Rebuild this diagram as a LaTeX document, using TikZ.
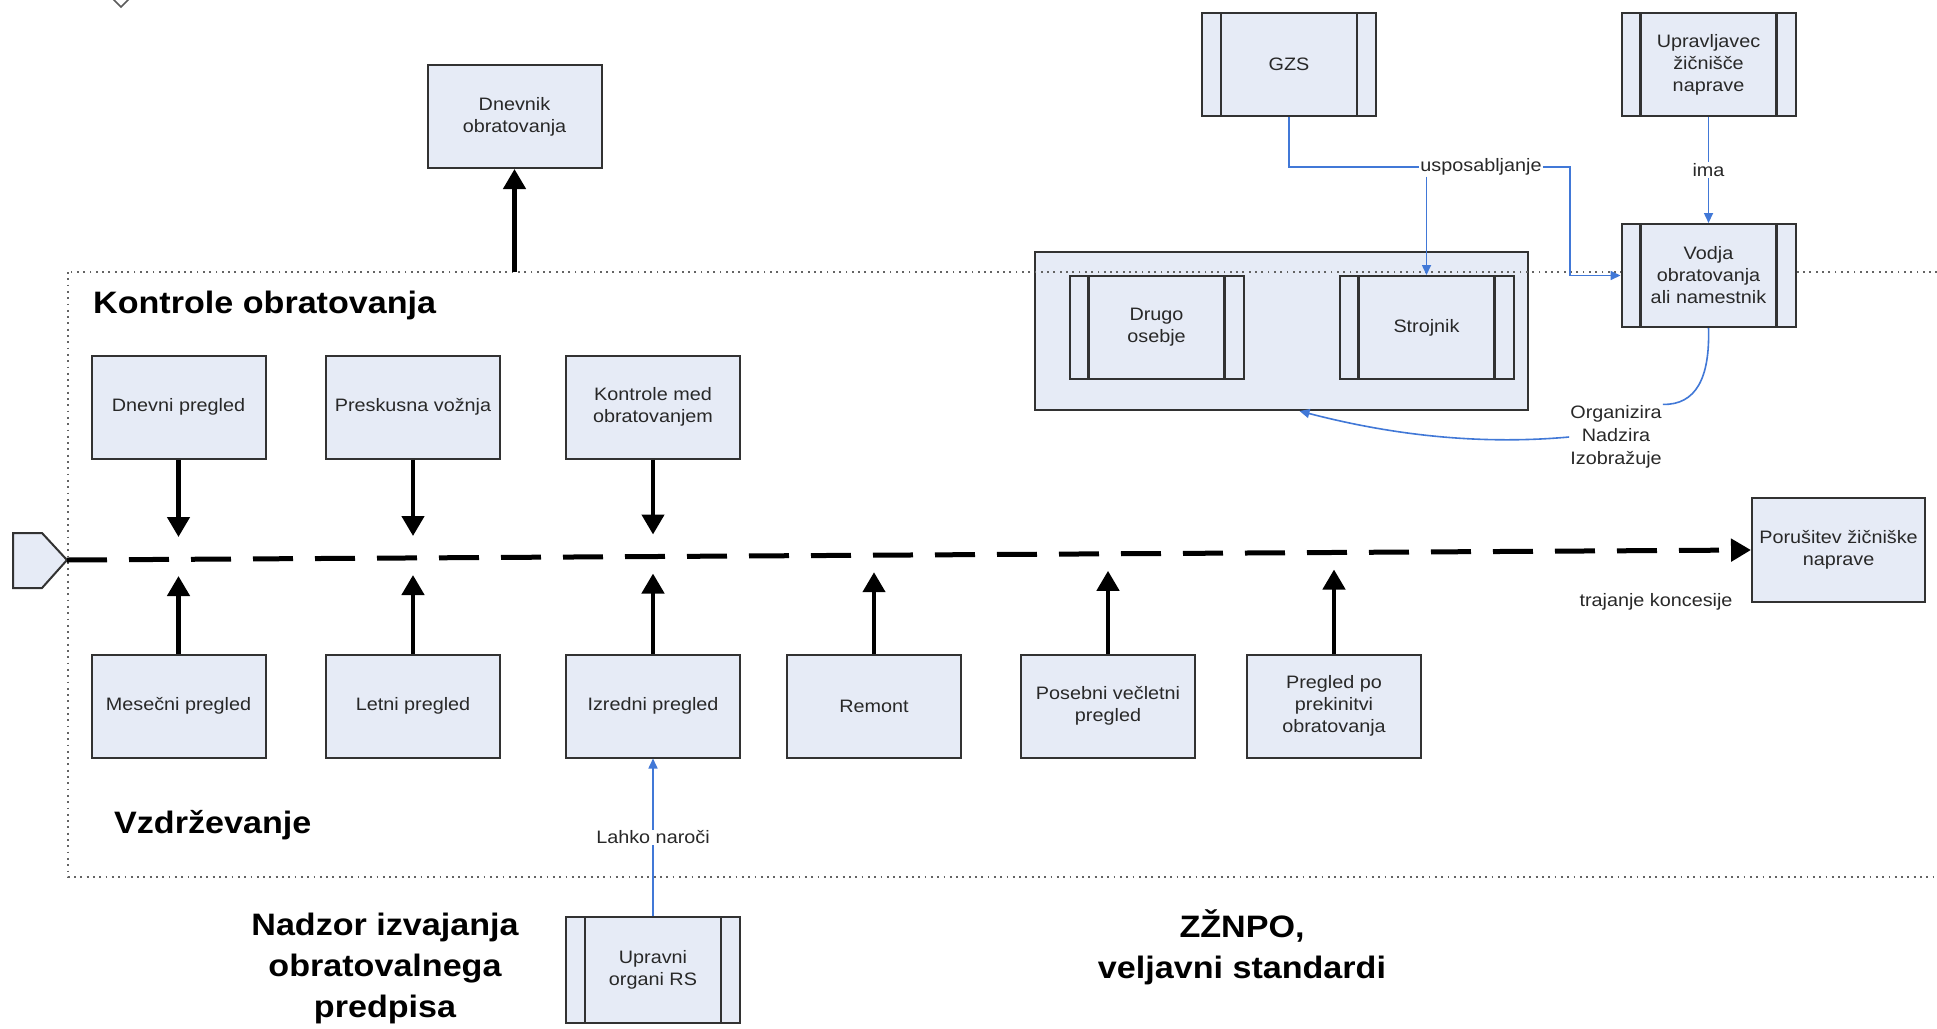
\documentclass[tikz,border=0pt]{standalone}
\usepackage{fontspec}
\setmainfont{Liberation Sans}[FakeStretch=1.1]
\usetikzlibrary{arrows.meta}
\definecolor{boxfill}{RGB}{230,235,246}
\definecolor{boxline}{RGB}{50,50,50}
\definecolor{conblue}{RGB}{65,120,215}
\definecolor{dotgray}{RGB}{100,100,100}
\definecolor{txt}{RGB}{40,40,40}
\tikzset{
  box/.style={draw=boxline, fill=boxfill, line width=2pt, minimum width=174pt,
    minimum height=103pt, align=center, font=\fontsize{18}{22}\selectfont, text=txt, inner sep=2pt},
  procbox/.style={box, path picture={
    \draw[boxline, line width=2.2pt] ([xshift=19pt]path picture bounding box.north west) -- ([xshift=19pt]path picture bounding box.south west);
    \draw[boxline, line width=2.2pt] ([xshift=-19pt]path picture bounding box.north east) -- ([xshift=-19pt]path picture bounding box.south east);}},
  heavy/.style={line width=4.5pt, -{Triangle[length=20pt,width=22pt]}},
  blueline/.style={draw=conblue, line width=1.6pt, -{Triangle[length=10pt,width=9pt]}},
  plainblue/.style={draw=conblue, line width=1.6pt},
  lbl/.style={font=\fontsize{18}{23}\selectfont, text=txt, align=center, inner sep=1pt},
  head/.style={font=\fontsize{31}{41}\selectfont\bfseries, align=center, inner sep=0pt},
  dotframe/.style={draw=dotgray, line width=1.8pt, dash pattern=on 1.8pt off 4.5pt},
}
\begin{document}
\begin{tikzpicture}[x=1pt,y=-1pt]
\useasboundingbox (0,0) rectangle (1937,1028);
\fill[white] (0,0) rectangle (1937,1028);
% small diamond at top
\draw[boxline!80, line width=1.5pt] (121,-15) -- (132,-4) -- (121,7) -- (110,-4) -- cycle;
% group box (behind dotted frame)
\node[box, minimum width=493pt, minimum height=158pt] (grp) at (1281.5,331) {};
% dotted frame
\draw[dotframe] (68,272) rectangle (1960,877);
% nodes
\node[box] (dnev) at (514.5,116.5) {Dnevnik\\obratovanja};
\node[box] (dp) at (178.5,407) {Dnevni pregled};
\node[box] (pv) at (413,407) {Preskusna vožnja};
\node[box] (kmo) at (653,407) {Kontrole med\\obratovanjem};
\node[box] (mp) at (178.5,706) {Mesečni pregled};
\node[box] (lp) at (413,706) {Letni pregled};
\node[box] (ip) at (653,706) {Izredni pregled};
\node[box] (rem) at (874,706) {Remont};
\node[box] (pvp) at (1108,706) {Posebni večletni\\pregled};
\node[box] (ppo) at (1334,706) {Pregled po\\prekinitvi\\obratovanja};
\node[box, minimum width=173pt, minimum height=104pt] (por) at (1838.5,550) {Porušitev žičniške\\naprave};
\node[procbox] (gzs) at (1289,64.5) {GZS};
\node[procbox] (upr) at (1708.5,64.5) {Upravljavec\\žičnišče\\naprave};
\node[procbox] (vod) at (1708.5,275.5) {Vodja\\obratovanja\\ali namestnik};
\node[procbox] (dos) at (1156.5,327.5) {Drugo\\osebje};
\node[procbox] (str) at (1426.5,327.5) {Strojnik};
\node[procbox, minimum height=106pt] (ups) at (653,970) {Upravni\\organi RS};
% headings
\node[head, anchor=west] (kh) at (93,305) {Kontrole obratovanja};
\node[head, anchor=west] (vh) at (114,825) {Vzdrževanje};
\node[head] (nh) at (385,968) {Nadzor izvajanja\\obratovalnega\\predpisa};
\node[head] (zh) at (1242,947) {ZŽNPO,\\veljavni standardi};
\node[lbl] (traj) at (1656,602) {trajanje koncesije};
% start pentagon
\draw[boxline, fill=boxfill, line width=2pt] (13,533) -- (42,533) -- (67,560) -- (42,588) -- (13,588) -- cycle;
\coordinate (st) at (67,560);
% main dashed line
\draw[line width=5pt, dash pattern=on 40pt off 22pt, -{Triangle[length=20pt,width=22pt]}] (st) -- (por.west);
% coordinates near the main line
\coordinate (t1) at (178.5,537);
\coordinate (t2) at (413,536);
\coordinate (t3) at (653,534.5);
\coordinate (b1) at (178.5,576);
\coordinate (b2) at (413,575);
\coordinate (b3) at (653,573.5);
\coordinate (b4) at (874,572.2);
\coordinate (b5) at (1108,570.8);
\coordinate (b6) at (1334,569.5);
\coordinate (dtop) at (514.5,272);
% heavy arrows
\draw[heavy] (dtop) -- (dnev.south);
\draw[heavy] (dp.south) -- (t1);
\draw[heavy] (pv.south) -- (t2);
\draw[heavy] (kmo.south) -- (t3);
\draw[heavy] (mp.north) -- (b1);
\draw[heavy] (lp.north) -- (b2);
\draw[heavy] (ip.north) -- (b3);
\draw[heavy] (rem.north) -- (b4);
\draw[heavy] (pvp.north) -- (b5);
\draw[heavy] (ppo.north) -- (b6);
% blue connectors
\node[lbl] (usp) at (1481,167) {usposabljanje};
\draw[plainblue] (gzs.south) |- (usp.west);
\draw[blueline] (usp.east) -- ++(27,0) |- (vod.west);
\draw[blueline] (usp.south -| str.north) -- (str.north);
\draw[blueline] (upr.south) -- node[lbl, fill=white] {ima} (vod.north);
\draw[blueline] (ups.north) -- node[lbl, fill=white] {Lahko naroči} (ip.south);
\node[lbl] (org) at (1616,437) {Organizira\\Nadzira\\Izobražuje};
\draw[plainblue] (vod.south) .. controls (1710,378) and (1696,405) .. (org.north east);
\draw[blueline] (org.west) .. controls (1470,446) and (1380,432) .. ([xshift=18pt]grp.south);
\end{tikzpicture}
\end{document}
